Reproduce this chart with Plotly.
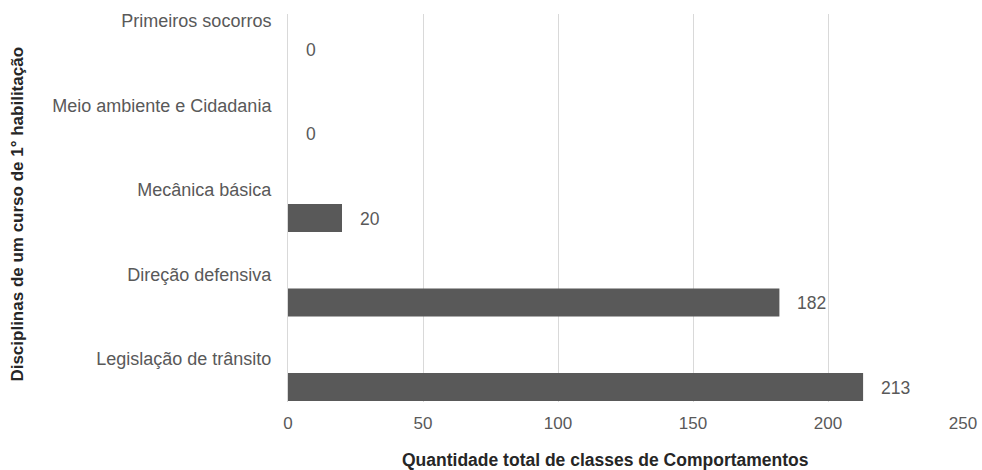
import plotly.graph_objects as go

categories = ["Legislação de trânsito", "Direção defensiva", "Mecânica básica",
              "Meio ambiente e Cidadania", "Primeiros socorros"]
values = [213, 182, 20, 0, 0]
x_ticks = [0, 50, 100, 150, 200, 250]
x_title = "Quantidade total de classes de Comportamentos"
y_title = "Disciplinas de um curso de 1° habilitação"

pos = list(range(len(categories)))
label_offset = 0.33
FONT = "Liberation Sans, Arial, sans-serif"

fig = go.Figure()
fig.add_trace(go.Bar(
    x=values, y=pos, orientation="h",
    marker=dict(color="#595959", line=dict(width=0)),
    width=0.33, hoverinfo="skip",
))

for p, v in zip(pos, values):
    fig.add_annotation(x=v, y=p, xref="x", yref="y", text=str(v),
                       showarrow=False, xanchor="left", yanchor="middle",
                       xshift=16, yshift=-1,
                       font=dict(family=FONT, size=17.5, color="#595959"))

fig.add_annotation(x=0.471, y=-0.149, xref="paper", yref="paper", text="<b>" + x_title + "</b>",
                   showarrow=False, xanchor="center", yanchor="middle",
                   font=dict(family=FONT, size=17.5, color="#262626"))
fig.add_annotation(x=-0.4, y=0.483, xref="paper", yref="paper", text="<b>" + y_title + "</b>",
                   showarrow=False, textangle=-90, xanchor="center", yanchor="middle",
                   font=dict(family=FONT, size=17, color="#262626"))

fig.update_layout(
    width=982, height=470, autosize=False,
    margin=dict(l=288, r=19, t=14, b=68, autoexpand=False),
    paper_bgcolor="white", plot_bgcolor="white",
    showlegend=False,
    xaxis=dict(range=[0, 250], tickvals=x_ticks, showgrid=True, gridcolor="#d9d9d9", gridwidth=1,
               zeroline=False, showline=False, ticks="outside", ticklen=6, tickcolor="white",
               automargin=False,
               tickfont=dict(family=FONT, size=17, color="#595959")),
    yaxis=dict(range=[-0.178, 4.414], tickvals=[p + label_offset for p in pos], ticktext=categories,
               showgrid=False, zeroline=False, showline=True, linecolor="#d9d9d9",
               ticks="outside", ticklen=12, tickcolor="white", automargin=False,
               tickfont=dict(family=FONT, size=18, color="#595959")),
)

fig.write_html("out.html", config={"displayModeBar": False},
               post_script="document.body.style.margin='0';")
